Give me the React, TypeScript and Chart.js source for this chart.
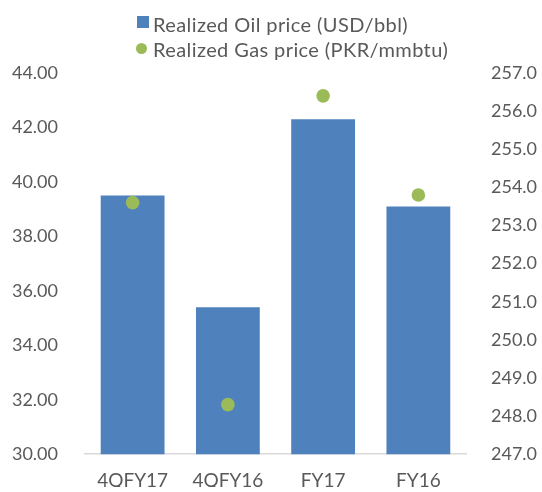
import React, { useEffect, useRef } from "react";
import { Chart, registerables } from "chart.js";

Chart.register(...registerables);

const categories = ["4QFY17", "4QFY16", "FY17", "FY16"];
const oilLabel = "Realized Oil price (USD/bbl)";
const gasLabel = "Realized Gas price (PKR/mmbtu)";
const oilPrice = [39.5, 35.4, 42.3, 39.1];
const gasPrice = [253.6, 248.3, 256.4, 253.8];

const FONT = "Lato, 'Open Sans', sans-serif";
const TEXT = "#595959";
const BLUE = "#4F81BD";
const GREEN = "#9BBB59";

const legendPlugin = {
  id: "customLegend",
  afterDraw(chart: any) {
    const ctx = chart.ctx;
    const ds = chart.data.datasets;
    ctx.save();
    ctx.font = `20px ${FONT}`;
    try {
      (ctx as any).letterSpacing = "0.4px";
    } catch (e) {}
    ctx.textBaseline = "alphabetic";
    ctx.textAlign = "left";
    ctx.fillStyle = ds[0].backgroundColor;
    ctx.fillRect(137, 16, 12, 12);
    ctx.fillStyle = TEXT;
    ctx.fillText(ds[0].label, 153, 31.5);
    ctx.fillStyle = ds[1].backgroundColor;
    ctx.beginPath();
    ctx.arc(141.5, 48.5, 5.5, 0, Math.PI * 2);
    ctx.fill();
    ctx.fillStyle = TEXT;
    ctx.fillText(ds[1].label, 153, 56.5);
    ctx.restore();
  },
};

export default function App() {
  const ref = useRef<HTMLCanvasElement>(null);
  useEffect(() => {
    document.body.style.margin = "0";
    const chart = new Chart(ref.current!, {
      type: "bar",
      data: {
        labels: categories,
        datasets: [
          {
            type: "bar",
            label: oilLabel,
            data: oilPrice,
            backgroundColor: BLUE,
            yAxisID: "y",
            barPercentage: 0.67,
            categoryPercentage: 1,
            order: 2,
          },
          {
            type: "line",
            label: gasLabel,
            data: gasPrice,
            backgroundColor: GREEN,
            borderColor: GREEN,
            showLine: false,
            pointRadius: 6.8,
            pointBorderWidth: 0,
            pointHoverRadius: 6.8,
            yAxisID: "y1",
            order: 1,
          } as any,
        ],
      },
      options: {
        animation: false,
        responsive: true,
        maintainAspectRatio: false,
        layout: { padding: { top: 73, bottom: 0, left: 0, right: 0 } },
        plugins: {
          legend: { display: false },
          title: { display: false },
          tooltip: { enabled: false },
        },
        scales: {
          x: {
            grid: { display: false, drawTicks: false },
            border: { display: true, color: "#D9D9D9", width: 1.5 },
            ticks: {
              color: TEXT,
              font: { family: FONT, size: 19 },
              padding: 15,
            },
            afterFit(scale: any) {
              scale.height = 32.7;
            },
          },
          y: {
            position: "left",
            min: 30,
            max: 44,
            grid: { display: false, drawTicks: false },
            border: { display: false },
            ticks: {
              stepSize: 2,
              color: TEXT,
              font: { family: FONT, size: 18 },
              padding: 27,
              callback: (v: any) => Number(v).toFixed(2),
            },
            afterFit(scale: any) {
              scale.width = 85;
            },
          },
          y1: {
            position: "right",
            min: 247,
            max: 257,
            grid: { display: false, drawTicks: false },
            border: { display: false },
            ticks: {
              stepSize: 1,
              color: TEXT,
              font: { family: FONT, size: 18 },
              padding: 25,
              callback: (v: any) => Number(v).toFixed(1),
            },
            afterFit(scale: any) {
              scale.width = 76;
            },
          },
        },
      },
      plugins: [legendPlugin],
    });
    return () => chart.destroy();
  }, []);
  return (
    <div style={{ position: "relative", width: 542, height: 492 }}>
      <canvas ref={ref} />
    </div>
  );
}
